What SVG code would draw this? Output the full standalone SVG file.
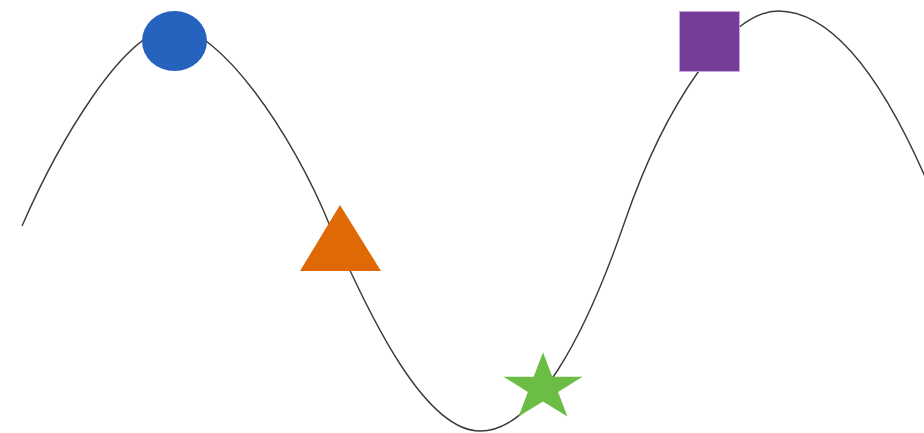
<svg xmlns="http://www.w3.org/2000/svg" width="924" height="433" viewBox="0 0 924 433">
  <style>
    .wave { fill: none; stroke: #3a3a3a; stroke-width: 1.4; }
  </style>
  <rect x="0" y="0" width="924" height="433" fill="#ffffff"/>
  <g id="connectors">
    <path class="wave" d="M22,226 C57,146 124,28 174,28 C219,28 292,132 330,226 C370,318 425,431 480,431 C535,431 585,337 625,221 C665,105 728,11 778,11 C845,11 900,115 935,200"/>
  </g>
  <g id="circle">
    <ellipse cx="174.5" cy="41" rx="32.5" ry="30" fill="#2563be"/>
  </g>
  <g id="triangle">
    <polygon points="340,205 381,271 300,271" fill="#df6a05"/>
  </g>
  <g id="star">
    <polygon points="543,352.3 552.3,376.8 582.5,376.8 558.1,392 567.4,416.5 543,401.4 518.6,416.5 527.9,392 503.5,376.8 533.7,376.8" fill="#6cbd45"/>
  </g>
  <g id="square">
    <rect x="679.5" y="11.5" width="60" height="60" fill="#763d98" stroke="#c9aee0" stroke-width="0.8"/>
  </g>
</svg>
